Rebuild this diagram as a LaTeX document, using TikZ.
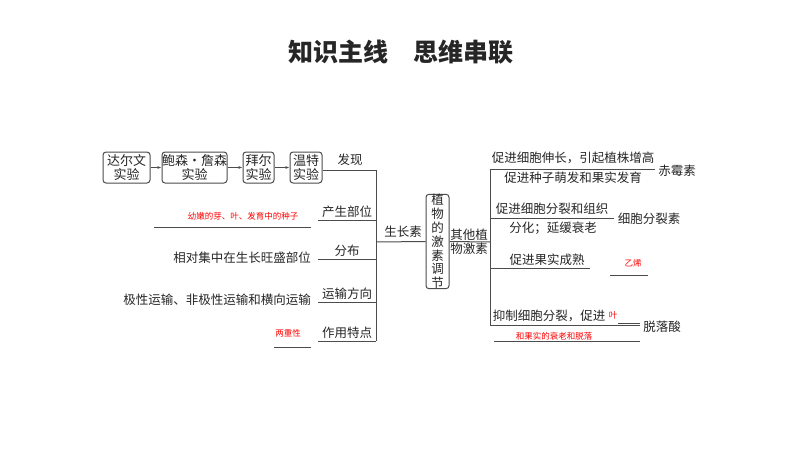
\documentclass[tikz,border=0pt]{standalone}
\usepackage{fontspec}
\setmainfont{Noto Sans CJK SC}
\usetikzlibrary{arrows.meta}
\begin{document}
\begin{tikzpicture}[x=1pt,y=-1pt,
  every node/.style={font=\fontsize{12.5}{14}\selectfont,text=black!85,inner sep=0pt},
  ln/.style={draw=black!70,line width=1pt},
  bx/.style={draw=black!70,line width=1pt,rounded corners=3pt,align=center,font=\fontsize{13}{14.5}\selectfont},
  red/.style={text=red,font=\fontsize{8.5}{10}\selectfont},
  arr/.style={ln,-{Latex[length=4pt]}}]
\useasboundingbox[fill=white] (0,0) rectangle (800,450);
\node (title) at (401,52) {\fontsize{25}{28}\selectfont\bfseries 知识主线\quad 思维串联};
% boxes
\node[bx,minimum width=47,minimum height=31] (b1) at (126.5,167.5) {达尔文\\实验};
\node[bx,minimum width=65,minimum height=31] (b2) at (194.5,167.5) {鲍森·詹森\\实验};
\node[bx,minimum width=31,minimum height=31] (b3) at (258.5,167.5) {拜尔\\实验};
\node[bx,minimum width=32,minimum height=31] (b4) at (306,167.5) {温特\\实验};
\draw[arr] (b1) -- (b2); \draw[arr] (b2) -- (b3); \draw[arr] (b3) -- (b4);
\node (fx) at (350,160) {发现};
\coordinate (t1) at (376,170); \coordinate (t2) at (376,341);
\draw[ln] (b4.east |- 0,170) -- (t1) -- (t2);
% branches
\node (cs) at (347,212) {产生部位};
\draw[ln] (318,220) -- (376,220);
\node[red] (r1) at (243,216) {幼嫩的芽、叶、发育中的种子};
\draw[ln] (154,227) -- (311,227);
\node (fb) at (347,251) {分布};
\draw[ln] (318,259) -- (376,259);
\node[anchor=east] (fbt) at (311,258) {相对集中在生长旺盛部位};
\node (ys) at (347,294) {运输方向};
\draw[ln] (318,302) -- (376,302);
\node[anchor=east] (yst) at (311,300) {极性运输、非极性运输和横向运输};
\node (zy) at (347,333) {作用特点};
\draw[ln] (318,341) -- (376,341);
\node[red] (r2) at (288,333) {两重性};
\draw[ln] (274,347) -- (311,347);
% center
\node (szs) at (403,232) {生长素};
\node[bx,minimum width=23,minimum height=93,font=\fontsize{12.5}{13.8}\selectfont] (zw) at (437.5,241.5) {植\\物\\的\\激\\素\\调\\节};
\draw[ln] (376,242) -- (zw.west);
\node[align=left] (qt) at (469,242) {其他植\\物激素};
\draw[ln] (zw.east) -- (490,242);
\draw[ln] (490,169) -- (490,325);
% right branches
\node (g1) at (573,158) {促进细胞伸长，引起植株增高};
\node (g2) at (573,178) {促进种子萌发和果实发育};
\draw[ln] (490,169) -- (655,169);
\node (cms) at (677,171) {赤霉素};
\node (c1) at (552,209) {促进细胞分裂和组织};
\node (c2) at (553,228) {分化；延缓衰老};
\draw[ln] (490,218) -- (614,218);
\node (xb) at (649,219) {细胞分裂素};
\node (cs2) at (547,260) {促进果实成熟};
\draw[ln] (490,268) -- (590,268);
\node[red] (r3) at (633,263) {乙烯};
\draw[ln] (610,275) -- (648,275);
\node (tl1) at (549,316) {抑制细胞分裂，促进};
\node[red] (r4) at (613,315) {叶};
\draw[ln] (490,325) -- (640,325);
\draw[ln] (618,323) -- (640,323);
\node (tls) at (662,327) {脱落酸};
\node[red] (r5) at (554,336) {和果实的衰老和脱落};
\draw[ln] (494,341) -- (640,341);
\end{tikzpicture}
\end{document}
